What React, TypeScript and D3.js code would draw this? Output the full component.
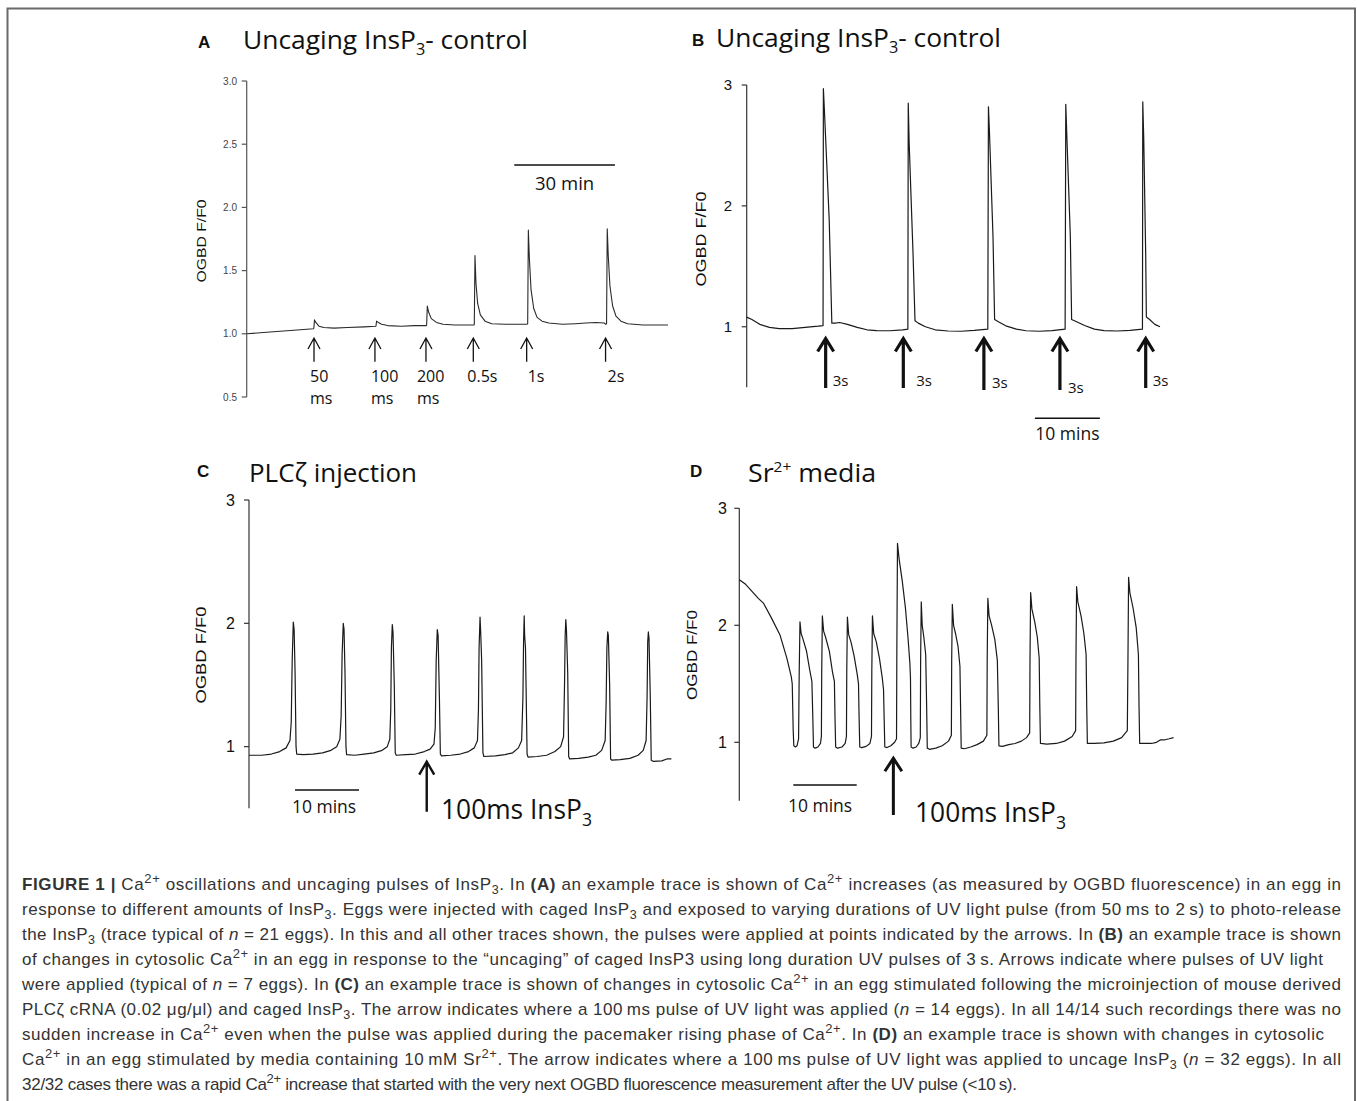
import React from "react";
import * as d3 from "d3";

type P = [number, number];

// ---------- DATA (time in minutes, value OGBD F/F0) ----------
const traceA: P[] = [
  [0, 1.0], [5, 1.01], [10, 1.02], [15, 1.03], [19.9, 1.04],
  [20.0, 1.045], [20.2, 1.11], [20.6, 1.09], [21.5, 1.06], [23, 1.05], [26, 1.045], [30, 1.05], [35, 1.055], [38.4, 1.06],
  [38.5, 1.062], [38.7, 1.1], [39.2, 1.09], [40.2, 1.075], [42, 1.065], [46, 1.06], [50, 1.065], [53.5, 1.065],
  [53.6, 1.07], [53.8, 1.22], [54.2, 1.17], [55, 1.12], [56.5, 1.09], [58.5, 1.075], [62, 1.07], [67.7, 1.07],
  [67.8, 1.075], [68.0, 1.62], [68.3, 1.4], [68.8, 1.24], [69.6, 1.15], [71, 1.1], [73, 1.08], [77, 1.075], [83.5, 1.075],
  [83.7, 1.08], [83.9, 1.82], [84.2, 1.6], [84.7, 1.35], [85.5, 1.2], [86.5, 1.13], [88, 1.1], [90, 1.085], [94, 1.075],
  [98, 1.08], [101, 1.085], [104, 1.09], [106.5, 1.085], [107, 1.075],
  [107.2, 1.08], [107.4, 1.83], [107.7, 1.62], [108.2, 1.38], [109, 1.22], [110, 1.14], [111.5, 1.1], [113.5, 1.08],
  [118, 1.07], [122, 1.07], [125.5, 1.07],
];

const traceB: P[] = [
  [0, 1.08], [0.8, 1.06], [2, 1.02], [3.5, 0.995], [5, 0.985], [7, 0.985], [9, 0.995], [11, 1.005], [11.75, 1.01],
  [11.8, 2.97], [12.0, 2.74], [12.7, 1.88], [13.1, 1.03], [13.6, 1.03], [14.3, 1.035], [15.5, 1.02], [17, 0.995],
  [18.5, 0.975], [20, 0.968], [22, 0.967], [24, 0.975], [24.8, 0.98],
  [24.86, 2.85], [25.0, 2.52], [25.6, 1.6], [25.9, 1.05], [26.4, 1.03], [27.5, 1.0], [29, 0.975], [31, 0.965],
  [33, 0.963], [35, 0.97], [37.1, 0.98],
  [37.2, 2.82], [37.35, 2.62], [37.9, 1.75], [38.15, 1.06], [38.8, 1.04], [40, 1.005], [41.5, 0.98], [43, 0.967],
  [45, 0.963], [47, 0.968], [49.0, 0.98],
  [49.1, 2.84], [49.25, 2.6], [49.8, 1.75], [50.0, 1.06], [50.6, 1.045], [52, 1.01], [53.5, 0.98], [55, 0.968],
  [57, 0.965], [59, 0.97], [60.9, 0.98],
  [60.95, 2.86], [61.1, 2.55], [61.4, 1.6], [61.5, 1.08], [62, 1.06], [62.8, 1.02], [63.6, 1.0],
];

const traceC: P[] = [
  [0, 0.93], [2, 0.93], [3.5, 0.94], [4.8, 0.96], [5.8, 0.99], [6.4, 1.05], [6.6, 1.2], [6.75, 1.7], [6.92, 2.01],
  [7.05, 1.95], [7.2, 1.6], [7.35, 1.0], [7.45, 0.94],
  [8.5, 0.935], [10, 0.94], [11.5, 0.95], [12.8, 0.97], [13.7, 1.0], [14.2, 1.06], [14.4, 1.25], [14.55, 1.75],
  [14.73, 2.0], [14.85, 1.95], [15.0, 1.6], [15.15, 1.0], [15.25, 0.935],
  [16.5, 0.93], [18, 0.94], [19.5, 0.95], [20.8, 0.97], [21.6, 1.0], [22.0, 1.06], [22.15, 1.3], [22.25, 1.8],
  [22.39, 1.99], [22.5, 1.93], [22.7, 1.5], [22.85, 0.95], [23, 0.93],
  [24.5, 0.935], [26, 0.94], [27.4, 0.96], [28.3, 0.98], [28.9, 1.02], [29.1, 1.15], [29.25, 1.7], [29.42, 1.95],
  [29.55, 1.9], [29.75, 1.4], [29.9, 0.94], [30.1, 0.925],
  [31.5, 0.93], [33, 0.94], [34.3, 0.96], [35.2, 0.99], [35.7, 1.05], [35.85, 1.3], [35.95, 1.8], [36.1, 2.05],
  [36.2, 1.93], [36.35, 1.7], [36.55, 0.95], [36.7, 0.92],
  [38.5, 0.925], [40, 0.935], [41.2, 0.95], [42.1, 0.99], [42.6, 1.05], [42.8, 1.4], [42.9, 1.85], [43.0, 2.06],
  [43.07, 1.9], [43.2, 1.8], [43.45, 0.94], [43.6, 0.915],
  [45, 0.92], [46.5, 0.93], [47.8, 0.96], [48.7, 1.0], [49.15, 1.08], [49.3, 1.5], [49.4, 1.9], [49.5, 2.03],
  [49.6, 1.95], [49.8, 1.6], [49.95, 0.92], [50.1, 0.9],
  [51.5, 0.905], [53, 0.915], [54.2, 0.93], [55.1, 0.97], [55.65, 1.05], [55.8, 1.35], [55.92, 1.8], [56.05, 1.93],
  [56.15, 1.9], [56.35, 1.5], [56.5, 0.9], [56.7, 0.89],
  [58, 0.895], [59.5, 0.905], [60.8, 0.93], [61.6, 0.97], [62.05, 1.05], [62.2, 1.4], [62.3, 1.85], [62.4, 1.93],
  [62.5, 1.88], [62.7, 1.4], [62.85, 0.89], [63.2, 0.88],
  [64.5, 0.885], [65.3, 0.9], [66, 0.9],
];

const traceD: P[] = [
  [0, 2.39], [1, 2.35], [2, 2.29], [3, 2.23], [3.8, 2.19], [5, 2.07], [6.4, 1.92], [7.5, 1.72], [8.2, 1.56],
  [8.35, 1.5], [8.5, 1.1], [8.6, 0.97], [8.85, 0.96], [9.1, 0.97], [9.35, 1.03],
  [9.45, 1.6], [9.57, 2.03], [9.75, 1.93], [10.0, 1.89], [10.6, 1.78], [11.1, 1.62], [11.45, 1.52], [11.6, 1.2],
  [11.7, 0.96], [11.95, 0.95], [12.4, 0.96], [12.8, 0.99], [12.95, 1.05],
  [13.0, 1.6], [13.1, 2.08], [13.3, 1.95], [13.6, 1.9], [14.2, 1.78], [14.7, 1.6], [15.0, 1.52], [15.1, 1.2],
  [15.2, 0.96], [15.5, 0.95], [16.2, 0.96], [16.7, 0.99], [16.9, 1.05],
  [16.95, 1.6], [17.05, 2.07], [17.25, 1.92], [17.6, 1.86], [18.1, 1.74], [18.6, 1.58], [18.8, 1.5], [18.9, 1.2],
  [19.0, 0.96], [19.3, 0.955], [20.0, 0.965], [20.6, 0.99], [20.85, 1.05],
  [20.9, 1.6], [21.0, 2.08], [21.2, 1.93], [21.6, 1.86], [22.1, 1.72], [22.55, 1.55], [22.75, 1.45], [22.85, 1.2],
  [22.95, 0.96], [23.3, 0.955], [23.9, 0.97], [24.5, 1.0], [24.8, 1.03],
  [24.85, 1.8], [24.95, 2.7], [25.2, 2.57], [25.7, 2.38], [26.2, 2.15], [26.6, 1.9], [26.9, 1.68], [27.0, 1.55],
  [27.05, 1.2], [27.1, 0.96], [27.4, 0.95], [27.9, 0.96], [28.3, 0.99], [28.55, 1.04],
  [28.6, 1.7], [28.7, 2.2], [28.85, 2.0], [29.1, 1.9], [29.4, 1.75], [29.55, 1.3], [29.65, 0.95], [30.0, 0.94],
  [31, 0.95], [32, 0.97], [33, 1.01], [33.45, 1.06],
  [33.5, 1.7], [33.6, 2.18], [33.8, 2.0], [34.1, 1.93], [34.5, 1.82], [34.8, 1.65], [34.9, 1.3], [35.0, 0.95],
  [35.5, 0.945], [36.5, 0.96], [37.5, 0.98], [38.5, 1.01], [39.05, 1.06],
  [39.1, 1.7], [39.2, 2.23], [39.4, 2.08], [39.8, 2.0], [40.3, 1.88], [40.7, 1.7], [40.85, 1.3], [40.95, 0.97],
  [41.5, 0.965], [42.5, 0.98], [43.5, 0.99], [44.5, 1.01], [45.3, 1.04], [45.8, 1.08],
  [45.85, 1.7], [45.95, 2.28], [46.15, 2.14], [46.6, 2.03], [47.0, 1.9], [47.3, 1.72], [47.4, 1.3], [47.5, 0.99],
  [48.5, 0.985], [50, 0.99], [51.3, 1.01], [52.5, 1.05], [53.05, 1.1],
  [53.1, 1.7], [53.2, 2.33], [53.4, 2.2], [53.9, 2.08], [54.35, 1.93], [54.7, 1.75], [54.8, 1.3], [54.9, 0.99],
  [56, 0.99], [57.5, 0.995], [59, 1.01], [60.3, 1.04], [61.2, 1.1],
  [61.3, 1.7], [61.4, 2.41], [61.6, 2.28], [62.1, 2.15], [62.6, 1.98], [62.95, 1.75], [63.05, 1.3], [63.15, 0.99],
  [64, 0.99], [65, 0.99], [65.8, 1.0], [66.4, 1.02], [67, 1.02], [67.8, 1.03], [68.5, 1.04],
];

// arrows (time in minutes) and labels
const arrowTimesA = [20.05, 38.2, 53.4, 67.5, 83.4, 106.9];
const arrowLabelsA = [["50", "ms"], ["100", "ms"], ["200", "ms"], ["0.5s"], ["1s"], ["2s"]];
const arrowTimesB = [12.15, 24.1, 36.5, 48.2, 61.4];
const arrowLabelsB = ["3s", "3s", "3s", "3s", "3s"];
const arrowTimeC = 27.77;
const arrowTimeD = 24.3;

const ticksA = [0.5, 1.0, 1.5, 2.0, 2.5, 3.0];
const ticksBCD = [1, 2, 3];
const yDomain: [number, number] = [0.5, 3];

const scaleBarA = { start: 79.7, len: 30, label: "30 min" };
const scaleBarB = { start: 44.35, len: 10, label: "10 mins" };
const scaleBarC = { start: 7.19, len: 10, label: "10 mins" };
const scaleBarD = { start: 8.52, len: 10, label: "10 mins" };

type Seg = [string, string?];
const captionLines: Seg[][] = [
  [["FIGURE 1 |", "b"], [" Ca"], ["2+", "sup"], [" oscillations and uncaging pulses of InsP"], ["3", "sub"], [". In "], ["(A)", "b"], [" an example trace is shown of Ca"], ["2+", "sup"], [" increases (as measured by OGBD fluorescence) in an egg in"]],
  [["response to different amounts of InsP"], ["3", "sub"], [". Eggs were injected with caged InsP"], ["3", "sub"], [" and exposed to varying durations of UV light pulse (from 50\u2009ms to 2\u2009s) to photo-release"]],
  [["the InsP"], ["3", "sub"], [" (trace typical of "], ["n", "i"], [" = 21 eggs). In this and all other traces shown, the pulses were applied at points indicated by the arrows. In "], ["(B)", "b"], [" an example trace is shown"]],
  [["of changes in cytosolic Ca"], ["2+", "sup"], [" in an egg in response to the \u201cuncaging\u201d of caged InsP3 using long duration UV pulses of 3\u2009s. Arrows indicate where pulses of UV light"]],
  [["were applied (typical of "], ["n", "i"], [" = 7 eggs). In "], ["(C)", "b"], [" an example trace is shown of changes in cytosolic Ca"], ["2+", "sup"], [" in an egg stimulated following the microinjection of mouse derived"]],
  [["PLC\u03b6 cRNA (0.02 \u03bcg/\u03bcl) and caged InsP"], ["3", "sub"], [". The arrow indicates where a 100\u2009ms pulse of UV light was applied ("], ["n", "i"], [" = 14 eggs). In all 14/14 such recordings there was no"]],
  [["sudden increase in Ca"], ["2+", "sup"], [" even when the pulse was applied during the pacemaker rising phase of Ca"], ["2+", "sup"], [". In "], ["(D)", "b"], [" an example trace is shown with changes in cytosolic"]],
  [["Ca"], ["2+", "sup"], [" in an egg stimulated by media containing 10\u2009mM Sr"], ["2+", "sup"], [". The arrow indicates where a 100\u2009ms pulse of UV light was applied to uncage InsP"], ["3", "sub"], [" ("], ["n", "i"], [" = 32 eggs). In all"]],
  [["32/32 cases there was a rapid Ca"], ["2+", "sup"], [" increase that started with the very next OGBD fluorescence measurement after the UV pulse (<10\u2009s)."]],
];
const captionWidths = [1319, 1319, 1319, 1301, 1319, 1319, 1302, 1319, 995];

// ---------- STYLE ----------
const CAL = "'Open Sans', Lato, sans-serif";
const ARIAL = "'Liberation Sans', Arial, sans-serif";

function Trace({ data, x, y, color = "#222", width = 1.2 }: any) {
  const line = d3.line<P>().x((d) => x(d[0])).y((d) => y(d[1]));
  return <path d={line(data) || ""} fill="none" stroke={color} strokeWidth={width} strokeLinejoin="round" />;
}

function YAxis({ x, y, ticks, labels, fontSize, color, labelX, tickLen = 5, axisColor }: any) {
  const x0 = x.range()[0];
  const [y0, y1] = y.range();
  return (
    <g>
      <line x1={x0} x2={x0} y1={y0} y2={y1} stroke={axisColor} strokeWidth={1.2} />
      {ticks.map((t: number, i: number) => (
        <g key={i}>
          <line x1={x0 - tickLen} x2={x0} y1={y(t)} y2={y(t)} stroke={axisColor} strokeWidth={1.2} />
          <text x={labelX} y={y(t)} dy="0.35em" textAnchor="end" fontFamily={ARIAL} fontSize={fontSize} fill={color}>
            {labels[i]}
          </text>
        </g>
      ))}
    </g>
  );
}

function Arrow({ x, tip, bottom, headW, headH, sw, color = "#111" }: any) {
  return (
    <path
      d={`M${x},${bottom}V${tip + sw * 0.4}M${x - headW / 2},${tip + headH}L${x},${tip}L${x + headW / 2},${tip + headH}`}
      fill="none"
      stroke={color}
      strokeWidth={sw}
      strokeLinejoin="miter"
    />
  );
}

function YLabel({ x, y, len, fontSize }: any) {
  return (
    <text transform={`translate(${x},${y}) rotate(-90)`} textAnchor="middle" fontFamily={ARIAL} fontSize={fontSize}
      fill="#111" textLength={len} lengthAdjust="spacingAndGlyphs">OGBD F/F0</text>
  );
}

function CaptionLine({ segs, y, width }: { segs: Seg[]; y: number; width: number }) {
  let shift = 0;
  const parts = segs.map((s, i) => {
    const [t, st] = s;
    let target = 0;
    let fs = 17;
    let fw: any = 400;
    let fst = "normal";
    if (st === "sup") { target = -7; fs = 13; }
    if (st === "sub") { target = 4; fs = 12.5; }
    if (st === "b") fw = 700;
    if (st === "i") fst = "italic";
    const dy = target - shift;
    shift = target;
    return (
      <tspan key={i} dy={dy} fontSize={fs} fontWeight={fw} fontStyle={fst}>{t}</tspan>
    );
  });
  return (
    <text x={22} y={y} fontFamily={ARIAL} fontSize={17} fill="#333" textLength={width} lengthAdjust="spacing">
      {parts}
    </text>
  );
}

function InsP3({ x, y, fs, subFs, subDy, pre = "", post = "", len }: any) {
  return (
    <text x={x} y={y} fontFamily={CAL} fontSize={fs} fill="#111" textLength={len} lengthAdjust="spacingAndGlyphs">
      <tspan>{pre}InsP</tspan>
      <tspan dy={subDy} fontSize={subFs}>3</tspan>
      <tspan dy={-subDy}>{post}</tspan>
    </text>
  );
}

export default function App() {
  // Panel A
  const xA = d3.scaleLinear().domain([0, traceA[traceA.length - 1][0]]).range([246.7, 668]);
  const yA = d3.scaleLinear().domain(yDomain).range([397, 81]);
  // Panel B
  const xB = d3.scaleLinear().domain([0, traceB[traceB.length - 1][0]]).range([746.7, 1160]);
  const yB = d3.scaleLinear().domain(yDomain).range([387.2, 85]);
  // Panel C
  const xC = d3.scaleLinear().domain([0, traceC[traceC.length - 1][0]]).range([249, 671.4]);
  const yC = d3.scaleLinear().domain(yDomain).range([808.3, 500]);
  // Panel D
  const xD = d3.scaleLinear().domain([0, traceD[traceD.length - 1][0]]).range([739.3, 1173.6]);
  const yD = d3.scaleLinear().domain(yDomain).range([800.8, 508.3]);

  const labelDxA = [-4, -4, -9, -6, 1, 2];
  const labelDxB = [7, 13, 8, 8, 7];
  const labelDyB = [0, 0, 2, 7, 0];
  const arrowBotB = [388, 388, 390, 390, 388];

  return (
    <svg width={1357} height={1101} style={{ position: "absolute", left: 0, top: 0, background: "#fff" }}>
      <rect x={0} y={0} width={1357} height={1101} fill="#fff" />
      <path d="M7.5,1101V8.5H1355V1101" fill="none" stroke="#6a6a6a" strokeWidth={2} />

      {/* ---------- Panel A ---------- */}
      <text x={198} y={47.5} fontFamily={ARIAL} fontWeight={700} fontSize={17} fill="#111">A</text>
      <InsP3 x={243} y={48.5} fs={26} subFs={16} subDy={6} pre="Uncaging " post="- control" len={285} />
      <YAxis x={xA} y={yA} ticks={ticksA} labels={ticksA.map((t) => d3.format(".1f")(t))} fontSize={10} color="#444"
        labelX={237} tickLen={5} axisColor="#555" />
      <YLabel x={206} y={241} len={83} fontSize={13.5} />
      <Trace data={traceA} x={xA} y={yA} color="#2a2a2a" width={1.1} />
      {arrowTimesA.map((t, i) => (
        <g key={i}>
          <Arrow x={xA(t)} tip={338} bottom={361.7} headW={12} headH={11} sw={1.3} />
          {arrowLabelsA[i].map((s, j) => (
            <text key={j} x={xA(t) + labelDxA[i]} y={382 + j * 21.5} fontFamily={CAL} fontSize={16} fill="#111">{s}</text>
          ))}
        </g>
      ))}
      <line x1={xA(scaleBarA.start)} x2={xA(scaleBarA.start + scaleBarA.len)} y1={165} y2={165} stroke="#111" strokeWidth={1.5} />
      <text x={xA(scaleBarA.start + scaleBarA.len / 2)} y={190} textAnchor="middle" fontFamily={CAL} fontSize={18.5} fill="#111">{scaleBarA.label}</text>

      {/* ---------- Panel B ---------- */}
      <text x={692} y={46} fontFamily={ARIAL} fontWeight={700} fontSize={17} fill="#111">B</text>
      <InsP3 x={716} y={47} fs={26} subFs={16} subDy={6} pre="Uncaging " post="- control" len={285} />
      <YAxis x={xB} y={yB} ticks={ticksBCD} labels={ticksBCD.map(String)} fontSize={15} color="#111"
        labelX={732} tickLen={5} axisColor="#333" />
      <YLabel x={706} y={239} len={95} fontSize={15} />
      <Trace data={traceB} x={xB} y={yB} color="#1a1a1a" width={1.2} />
      {arrowTimesB.map((t, i) => (
        <g key={i}>
          <Arrow x={xB(t)} tip={338.5} bottom={arrowBotB[i]} headW={16} headH={13} sw={3.2} />
          <text x={xB(t) + labelDxB[i]} y={385.5 + labelDyB[i]} fontFamily={CAL} fontSize={15} fill="#111">{arrowLabelsB[i]}</text>
        </g>
      ))}
      <line x1={xB(scaleBarB.start)} x2={xB(scaleBarB.start + scaleBarB.len)} y1={418.3} y2={418.3} stroke="#111" strokeWidth={1.5} />
      <text x={xB(scaleBarB.start + scaleBarB.len / 2)} y={440} textAnchor="middle" fontFamily={CAL} fontSize={17.5} fill="#111">{scaleBarB.label}</text>

      {/* ---------- Panel C ---------- */}
      <text x={197} y={477} fontFamily={ARIAL} fontWeight={700} fontSize={17} fill="#111">C</text>
      <text x={249} y={481.5} fontFamily={CAL} fontSize={26} fill="#111" textLength={168} lengthAdjust="spacingAndGlyphs">PLCζ injection</text>
      <YAxis x={xC} y={yC} ticks={ticksBCD} labels={ticksBCD.map(String)} fontSize={16} color="#111"
        labelX={235} tickLen={5} axisColor="#333" />
      <YLabel x={206} y={655} len={97} fontSize={15} />
      <Trace data={traceC} x={xC} y={yC} color="#1a1a1a" width={1.2} />
      <Arrow x={xC(arrowTimeC)} tip={761.7} bottom={811.7} headW={15} headH={13} sw={2.4} />
      <InsP3 x={441} y={818.5} fs={27} subFs={18} subDy={7} pre="100ms " len={151} />
      <line x1={xC(scaleBarC.start)} x2={xC(scaleBarC.start + scaleBarC.len)} y1={790} y2={790} stroke="#111" strokeWidth={1.5} />
      <text x={xC(scaleBarC.start + scaleBarC.len / 2) - 3} y={812.5} textAnchor="middle" fontFamily={CAL} fontSize={17.5} fill="#111">{scaleBarC.label}</text>

      {/* ---------- Panel D ---------- */}
      <text x={690} y={477} fontFamily={ARIAL} fontWeight={700} fontSize={17} fill="#111">D</text>
      <text x={748} y={481.5} fontFamily={CAL} fontSize={26} fill="#111" textLength={128} lengthAdjust="spacingAndGlyphs">
        <tspan>Sr</tspan>
        <tspan dy={-10} fontSize={15}>2+</tspan>
        <tspan dy={10}> media</tspan>
      </text>
      <YAxis x={xD} y={yD} ticks={ticksBCD} labels={ticksBCD.map(String)} fontSize={16} color="#111"
        labelX={727} tickLen={5} axisColor="#333" />
      <YLabel x={697} y={655} len={90} fontSize={15} />
      <Trace data={traceD} x={xD} y={yD} color="#1a1a1a" width={1.2} />
      <Arrow x={xD(arrowTimeD)} tip={758.3} bottom={815} headW={17} headH={13} sw={3} />
      <InsP3 x={915} y={822} fs={27} subFs={18} subDy={7} pre="100ms " len={151} />
      <line x1={xD(scaleBarD.start)} x2={xD(scaleBarD.start + scaleBarD.len)} y1={785} y2={785} stroke="#111" strokeWidth={1.5} />
      <text x={xD(scaleBarD.start + scaleBarD.len / 2) - 5} y={811.5} textAnchor="middle" fontFamily={CAL} fontSize={17.5} fill="#111">{scaleBarD.label}</text>

      {/* ---------- Caption ---------- */}
      {captionLines.map((segs, i) => (
        <CaptionLine key={i} segs={segs} y={890 + i * 25} width={captionWidths[i]} />
      ))}
    </svg>
  );
}
